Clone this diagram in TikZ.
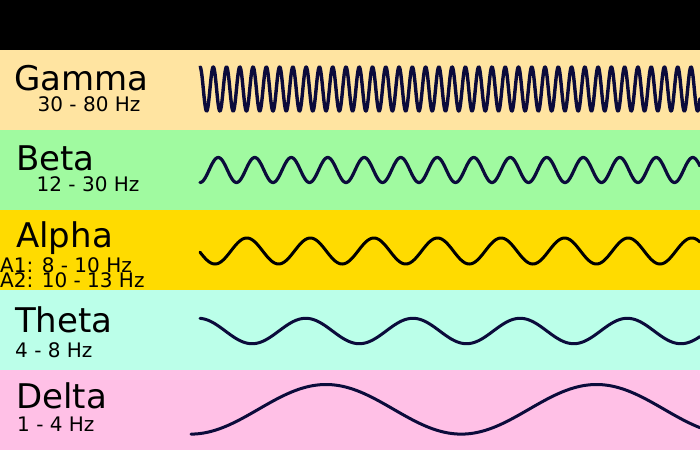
\documentclass[tikz,border=0pt]{standalone}
\usepackage{fontspec}
\setmainfont{DejaVu Sans}
\definecolor{gammabg}{HTML}{FFE4A1}
\definecolor{betabg}{HTML}{A0FAA0}
\definecolor{alphabg}{HTML}{FFDB00}
\definecolor{thetabg}{HTML}{BBFFE9}
\definecolor{deltabg}{HTML}{FFC0E6}
\definecolor{navy}{HTML}{0B0B3B}
\tikzset{
  bandname/.style={anchor=base west, inner sep=0pt, font=\fontsize{34}{34}\selectfont},
  bandfreq/.style={anchor=base west, inner sep=0pt, font=\fontsize{20}{20}\selectfont},
  wave/.style={line width=3.2pt, line join=round, line cap=round, draw=navy},
}
\begin{document}
\begin{tikzpicture}[x=1pt,y=-1pt]
\useasboundingbox (0,0) rectangle (700,450);
% bands
\fill[black]   (0,0)   rectangle (700,50);
\fill[gammabg] (0,50)  rectangle (700,130);
\fill[betabg]  (0,130) rectangle (700,210);
\fill[alphabg] (0,210) rectangle (700,290);
\fill[thetabg] (0,290) rectangle (700,370);
\fill[deltabg] (0,370) rectangle (700,450);
% labels
\node[bandname] (gname) at (14,90) {Gamma};
\node[bandfreq] (gfreq) at (37.5,111.7) {30 - 80 Hz};
\node[bandname] (bname) at (16,170) {Beta};
\node[bandfreq] (bfreq) at (36.5,191) {12 - 30 Hz};
\node[bandname] (aname) at (16,247) {Alpha};
\node[bandfreq] (afreq1) at (0,272) {A1: 8 - 10 Hz};
\node[bandfreq] (afreq2) at (0,287.5) {A2: 10 - 13 Hz};
\node[bandname] (tname) at (15,332) {Theta};
\node[bandfreq] (tfreq) at (15,357) {4 - 8 Hz};
\node[bandname] (dname) at (16,408.5) {Delta};
\node[bandfreq] (dfreq) at (17,431.5) {1 - 4 Hz};
% waves
\draw[wave, line width=3.4pt, domain=200:700, samples=1600, variable=\t]
  plot (\t, {89 - 22*cos((\t-200)/13.27*360)});
\draw[wave, domain=200:700, samples=500, variable=\t]
  plot (\t, {170 + 12.5*cos((\t-200)/36.5*360)});
\draw[wave, draw=black, line width=3pt, domain=200:700, samples=500, variable=\t]
  plot (\t, {251 + 13*cos((\t-215)/63.57*360)});
\draw[wave, line width=3pt, domain=200:700, samples=500, variable=\t]
  plot (\t, {331 - 12.7*cos((\t-198.5)/107.2*360)});
\draw[wave, line width=3pt, domain=191:700, samples=500, variable=\t]
  plot (\t, {409.3 - 24.8*cos((\t-326)/270.5*360)});
\end{tikzpicture}
\end{document}
